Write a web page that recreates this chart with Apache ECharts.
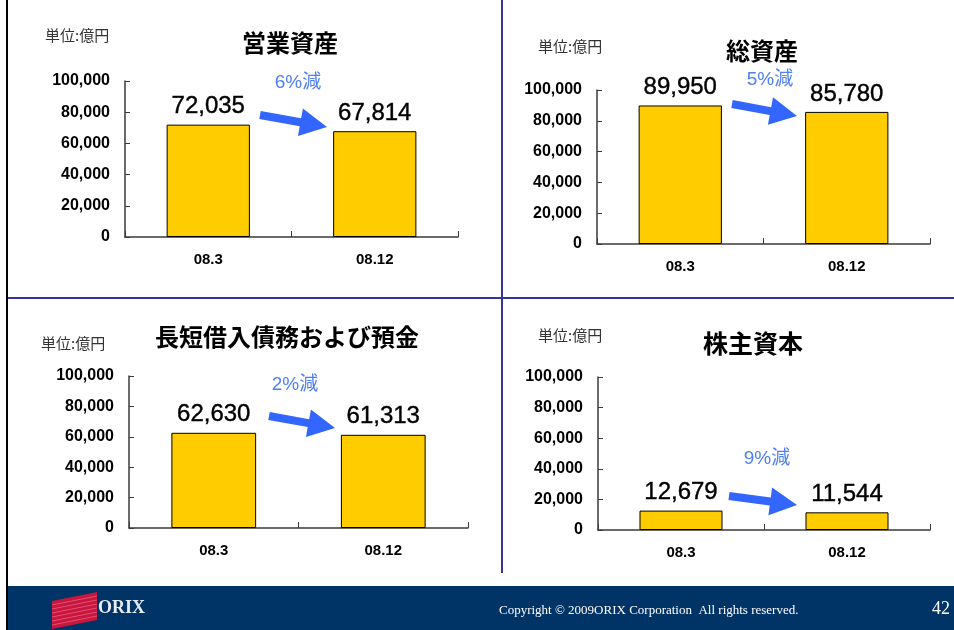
<!DOCTYPE html>
<html>
<head>
<meta charset="utf-8">
<script src="https://cdn.jsdelivr.net/npm/echarts@6/dist/echarts.min.js"></script>
<style>
  html, body { margin: 0; padding: 0; background: #fff; }
  #chart { width: 954px; height: 630px; }
</style>
</head>
<body>
<div id="chart"></div>
<script>
// Period labels shared by all four panels
const categories = ['08.3', '08.12'];

// Values (億円) per panel
const operatingAssets = [72035, 67814];
const totalAssets = [89950, 85780];
const borrowingsAndDeposits = [62630, 61313];
const shareholdersEquity = [12679, 11544];

// Panel headings and change captions
const panelTitles = ['営業資産', '総資産', '長短借入債務および預金', '株主資本'];
const changeLabels = ['6%減', '5%減', '2%減', '9%減'];
const unitLabel = '単位:億円';

// Value axis scale
const yMin = 0;
const yMax = 100000;
const yInterval = 20000;

const panelValues = [operatingAssets, totalAssets, borrowingsAndDeposits, shareholdersEquity];

// Layout of each panel (pixels)
const layout = [
  { grid: { left: 125, top: 81, width: 333, height: 156 }, title: [290, 43, 24], unit: [45, 35], change: [298, 83], arrow: [260, 115, 327, 127] },
  { grid: { left: 597, top: 90, width: 333, height: 154 }, title: [762, 51, 24], unit: [538, 46], change: [770, 80], arrow: [732, 104, 797, 116] },
  { grid: { left: 129, top: 376, width: 339, height: 152 }, title: [287, 337, 24], unit: [41, 343], change: [295, 385], arrow: [269, 416, 335, 428] },
  { grid: { left: 598, top: 377, width: 332, height: 153 }, title: [753, 343, 25], unit: [538, 335], change: [767, 459], arrow: [729, 496, 797, 505] }
];

const latin = "'Liberation Sans', Arial, 'Noto Sans CJK JP', sans-serif";
const cjk = "'Noto Sans CJK JP', 'Liberation Sans', sans-serif";
const serif = "'Liberation Serif', 'DejaVu Serif', serif";
const axisColor = '#3a3a3a';

function fmt(v) {
  return String(v).replace(/\B(?=(\d{3})+(?!\d))/g, ',');
}

// Block arrow polygon from (x1,y1) to tip (x2,y2)
function arrowPoints(x1, y1, x2, y2) {
  const dx = x2 - x1, dy = y2 - y1;
  const len = Math.sqrt(dx * dx + dy * dy);
  const ux = dx / len, uy = dy / len;
  const nx = -uy, ny = ux;
  const shaftHalf = 4, headHalf = 14, headLen = 27;
  const bx = x2 - ux * headLen, by = y2 - uy * headLen;
  return [
    [x1 + nx * shaftHalf, y1 + ny * shaftHalf],
    [bx + nx * shaftHalf, by + ny * shaftHalf],
    [bx + nx * headHalf, by + ny * headHalf],
    [x2, y2],
    [bx - nx * headHalf, by - ny * headHalf],
    [bx - nx * shaftHalf, by - ny * shaftHalf],
    [x1 - nx * shaftHalf, y1 - ny * shaftHalf]
  ];
}

const grids = [], xAxes = [], yAxes = [], series = [], graphics = [];

layout.forEach((p, i) => {
  grids.push(Object.assign({ containLabel: false }, p.grid));
  xAxes.push({
    type: 'category', gridIndex: i, data: categories,
    axisLine: { lineStyle: { color: axisColor, width: 1.5 } },
    axisTick: { show: true, inside: true, length: 6, alignWithLabel: false, lineStyle: { color: axisColor } },
    axisLabel: { color: '#000', fontFamily: latin, fontWeight: 'bold', fontSize: 15, margin: 15 },
    splitLine: { show: false }
  });
  yAxes.push({
    type: 'value', gridIndex: i, min: yMin, max: yMax, interval: yInterval,
    axisLine: { show: true, lineStyle: { color: axisColor, width: 1.5 } },
    axisTick: { show: true, inside: true, length: 5, lineStyle: { color: axisColor } },
    axisLabel: { color: '#000', fontFamily: latin, fontWeight: 'bold', fontSize: 16, margin: 15, formatter: fmt },
    splitLine: { show: false }
  });
  series.push({
    type: 'bar', xAxisIndex: i, yAxisIndex: i, data: panelValues[i], barWidth: '50%',
    itemStyle: { color: '#FFCC00', borderColor: '#000', borderWidth: 1 },
    label: { show: true, position: 'top', distance: 6, color: '#000', fontFamily: latin, fontSize: 24,
      textBorderColor: '#000', textBorderWidth: 0.4,
      formatter: (d) => fmt(d.value) },
    animation: false
  });

  graphics.push({
    type: 'text', x: p.title[0], y: p.title[1],
    style: { text: panelTitles[i], fill: '#000', font: `bold ${p.title[2]}px ${cjk}`, textAlign: 'center', textVerticalAlign: 'middle' }
  });
  graphics.push({
    type: 'text', x: p.unit[0], y: p.unit[1],
    style: { text: unitLabel, fill: '#333', font: `15px ${cjk}`, textAlign: 'left', textVerticalAlign: 'middle' }
  });
  graphics.push({
    type: 'text', x: p.change[0], y: p.change[1],
    style: { text: changeLabels[i], fill: '#4f7ff2', font: `19px ${latin}`, textAlign: 'center', textVerticalAlign: 'middle' }
  });
  graphics.push({
    type: 'polygon', shape: { points: arrowPoints.apply(null, p.arrow) },
    style: { fill: '#3366ff' }
  });
});

// Panel dividers
graphics.push({ type: 'rect', shape: { x: 6, y: 0, width: 2, height: 630 }, style: { fill: '#000' } });
graphics.push({ type: 'rect', shape: { x: 8, y: 297, width: 946, height: 2 }, style: { fill: '#34349a' } });
graphics.push({ type: 'rect', shape: { x: 501, y: 0, width: 2, height: 573 }, style: { fill: '#34349a' } });

// Footer band
graphics.push({ type: 'rect', shape: { x: 8, y: 586, width: 946, height: 44 }, style: { fill: '#003366' } });
graphics.push({ type: 'polygon', shape: { points: [[52, 601], [97, 592], [97, 620], [52, 629]] }, style: { fill: '#c8163f' } });
for (let k = 0; k < 6; k++) {
  graphics.push({ type: 'line', shape: { x1: 52, y1: 605 + k * 4, x2: 97, y2: 596 + k * 4 }, style: { stroke: '#e0506e', lineWidth: 1 } });
}
graphics.push({ type: 'text', x: 98, y: 608, style: { text: 'ORIX', fill: '#e8ecf4', font: `bold 18px ${serif}`, textAlign: 'left', textVerticalAlign: 'middle' } });
graphics.push({ type: 'text', x: 499, y: 611, style: { text: 'Copyright © 2009ORIX Corporation  All rights reserved.', fill: '#fff', font: `13px ${serif}`, textAlign: 'left', textVerticalAlign: 'middle' } });
graphics.push({ type: 'text', x: 950, y: 609, style: { text: '42', fill: '#fff', font: `18px ${serif}`, textAlign: 'right', textVerticalAlign: 'middle' } });

const chart = echarts.init(document.getElementById('chart'), null, { renderer: 'canvas' });
chart.setOption({
  backgroundColor: '#fff',
  animation: false,
  grid: grids,
  xAxis: xAxes,
  yAxis: yAxes,
  series: series,
  graphic: graphics
});
</script>
</body>
</html>
